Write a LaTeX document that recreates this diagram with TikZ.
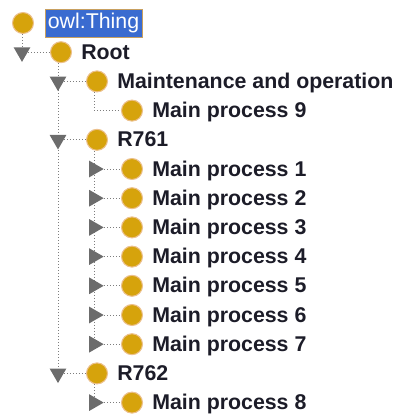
\documentclass[tikz,border=0pt]{standalone}
\usepackage{fontspec}
\setmainfont{Liberation Sans}
\usetikzlibrary{shapes.geometric,backgrounds}

\definecolor{owlgold}{RGB}{214,163,12}
\definecolor{owlrim}{RGB}{236,192,140}
\definecolor{owlsel}{RGB}{58,107,208}
\definecolor{owlselrim}{RGB}{200,160,96}
\definecolor{handle}{RGB}{108,108,108}
\definecolor{twiggray}{RGB}{125,125,125}
\definecolor{ink}{RGB}{28,28,40}

\tikzset{
  cls/.style={circle, fill=owlgold, draw=owlrim, line width=0.8pt, minimum size=15.75pt, inner sep=0pt},
  lbl/.style={anchor=base west, inner sep=0pt, text=ink, font=\fontsize{16}{19}\selectfont\bfseries},
  opened/.style={regular polygon, regular polygon sides=3, shape border rotate=180, fill=handle, minimum size=14.5pt, inner sep=0pt},
  shut/.style={regular polygon, regular polygon sides=3, shape border rotate=-90, fill=handle, minimum size=14.5pt, inner sep=0pt},
  twig/.style={draw=twiggray, line width=0.7pt, dash pattern=on 0.75pt off 1.5pt}
}

\begin{document}
\begin{tikzpicture}[x=0.75pt,y=0.75pt,yscale=-1,xscale=1]
\useasboundingbox (0,0) rectangle (399,414);

% owl:Thing
\node[cls] (thing) at (23,23) {};
\node[fill=owlsel, draw=owlselrim, line width=0.6pt, text=white, minimum width=72.75pt, minimum height=21pt, inner sep=0pt, font=\fontsize{16}{19}\selectfont] (lthing) at (93.5,23) {owl:Thing};

% Root
\node[opened] (hroot) at (22,52.2) {};
\node[cls] (root) at (61,52.2) {};
\node[lbl] (lroot) at (81,59.2) {Root};

% Maintenance and operation
\node[opened] (hmaint) at (58,81.4) {};
\node[cls] (maint) at (97,81.4) {};
\node[lbl] (lmaint) at (117,88.4) {Maintenance and operation};

% Main process 9 (leaf)
\coordinate (k9) at (94,110.6);
\node[cls] (mp9) at (132,110.6) {};
\node[lbl] (lmp9) at (152,117.6) {Main process 9};

% R761
\node[opened] (hr761) at (58,139.8) {};
\node[cls] (r761) at (97,139.8) {};
\node[lbl] (lr761) at (117,146.8) {R761};

% Main process 1-7
\node[shut] (hmp1) at (94,169) {};
\node[cls] (mp1) at (132,169) {};
\node[lbl] (lmp1) at (152,176) {Main process 1};
\node[shut] (hmp2) at (94,198.2) {};
\node[cls] (mp2) at (132,198.2) {};
\node[lbl] (lmp2) at (152,205.2) {Main process 2};
\node[shut] (hmp3) at (94,227.4) {};
\node[cls] (mp3) at (132,227.4) {};
\node[lbl] (lmp3) at (152,234.4) {Main process 3};
\node[shut] (hmp4) at (94,256.6) {};
\node[cls] (mp4) at (132,256.6) {};
\node[lbl] (lmp4) at (152,263.6) {Main process 4};
\node[shut] (hmp5) at (94,285.8) {};
\node[cls] (mp5) at (132,285.8) {};
\node[lbl] (lmp5) at (152,292.8) {Main process 5};
\node[shut] (hmp6) at (94,315) {};
\node[cls] (mp6) at (132,315) {};
\node[lbl] (lmp6) at (152,322) {Main process 6};
\node[shut] (hmp7) at (94,344.2) {};
\node[cls] (mp7) at (132,344.2) {};
\node[lbl] (lmp7) at (152,351.2) {Main process 7};

% R762
\node[opened] (hr762) at (58,373.4) {};
\node[cls] (r762) at (97,373.4) {};
\node[lbl] (lr762) at (117,380.4) {R762};

% Main process 8
\node[shut] (hmp8) at (94,402.6) {};
\node[cls] (mp8) at (132,402.6) {};
\node[lbl] (lmp8) at (152,409.6) {Main process 8};

% dotted tree lines
\begin{scope}[on background layer]
\draw[twig] (thing.south -| hroot) -- (hroot);
\draw[twig] (root.south -| hmaint) -- (hr762);
\draw[twig] (maint.south -| k9) |- (mp9.west);
\draw[twig] (r761.south -| hmp1) -- (hmp7);
\draw[twig] (r762.south -| hmp8) -- (hmp8);
\end{scope}
\draw[twig] (hroot.east) -- (root.west);
\draw[twig] (hmaint.east) -- (maint.west);
\draw[twig] (hr761.east) -- (r761.west);
\draw[twig] (hr762.east) -- (r762.west);
\draw[twig] (hmp1.east) -- (mp1.west);
\draw[twig] (hmp2.east) -- (mp2.west);
\draw[twig] (hmp3.east) -- (mp3.west);
\draw[twig] (hmp4.east) -- (mp4.west);
\draw[twig] (hmp5.east) -- (mp5.west);
\draw[twig] (hmp6.east) -- (mp6.west);
\draw[twig] (hmp7.east) -- (mp7.west);
\draw[twig] (hmp8.east) -- (mp8.west);

\end{tikzpicture}
\end{document}
